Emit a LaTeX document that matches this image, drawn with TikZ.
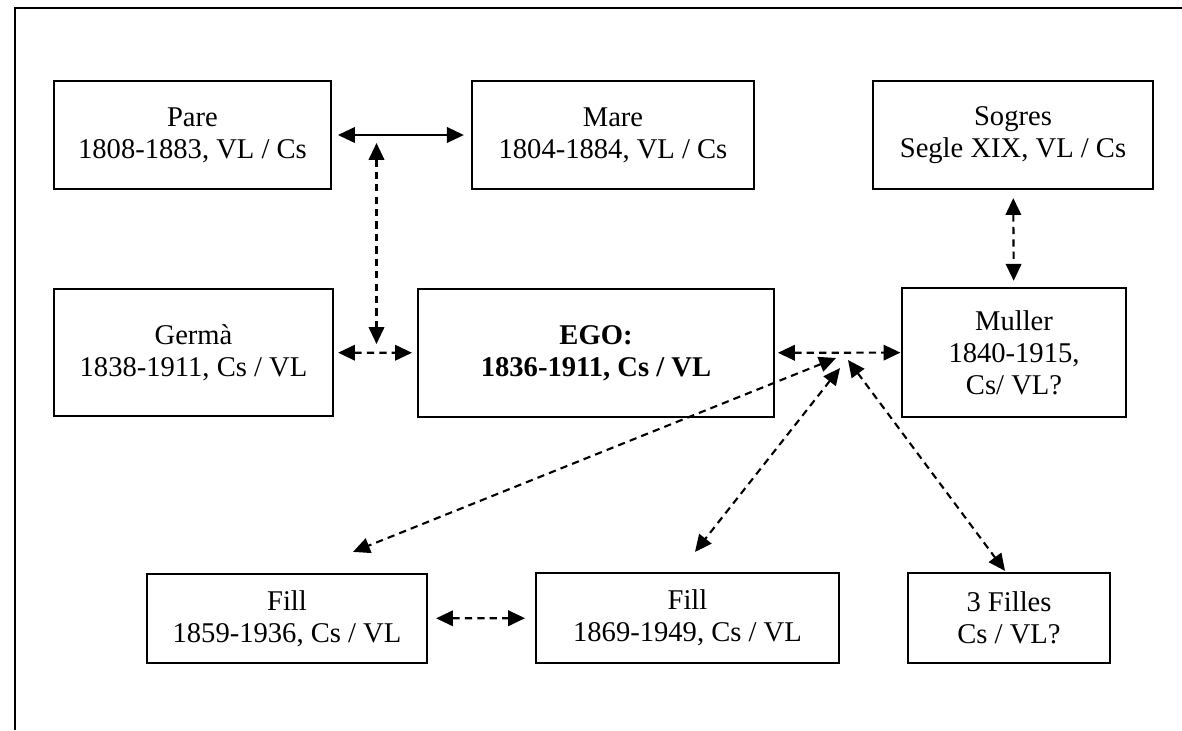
\documentclass[tikz,border=0pt]{standalone}
\usepackage{fontspec}
\setmainfont{Liberation Serif}
\usetikzlibrary{arrows.meta}
\tikzset{box/.style = {draw, line width = 0.95pt, align = center, inner sep = 0,
                       font = \fontsize{12.2}{13.7}\selectfont}}
\tikzset{link/.style = {line width = 0.9pt,
                        {Triangle[length = 7.2pt, width = 6.6pt]}-{Triangle[length = 7.2pt, width = 6.6pt]}}}
\tikzset{dlink/.style = {link, dash pattern = on 3.1pt off 2.2pt}}

\begin{document}
\begin{tikzpicture}[x = 0.015cm, y = -0.015cm]
    \useasboundingbox (0, 0) rectangle (1182, 730);
    \draw [line width = 0.95pt] (1182, 8) -- (15, 8) -- (15, 730);

    \node [box, minimum width = 4.155cm, minimum height = 1.62cm] (pare) at (192.5, 135) {Pare\\1808-1883, VL / Cs};
    \node [box, minimum width = 4.23cm, minimum height = 1.62cm] (mare) at (613, 135) {Mare\\1804-1884, VL / Cs};
    \node [box, minimum width = 4.2cm, minimum height = 1.62cm] (sogres) at (1013, 135) {Sogres\\Segle XIX, VL / Cs};
    \node [box, minimum width = 4.185cm, minimum height = 1.905cm] (germa) at (193.5, 352.5) {Germà\\1838-1911, Cs / VL};
    \node [box, minimum width = 5.34cm, minimum height = 1.92cm] (ego) at (596, 353) {\textbf{EGO:}\\\textbf{1836-1911, Cs / VL}};
    \node [box, minimum width = 3.36cm, minimum height = 1.935cm] (muller) at (1014, 352.5) {Muller\\1840-1915,\\Cs/ VL?};
    \node [box, minimum width = 4.2cm, minimum height = 1.335cm] (fill1) at (287, 618.5) {Fill\\1859-1936, Cs / VL};
    \node [box, minimum width = 4.545cm, minimum height = 1.35cm] (fill2) at (687.5, 618) {Fill\\1869-1949, Cs / VL};
    \node [box, minimum width = 3.03cm, minimum height = 1.35cm] (filles) at (1009, 618) {3 Filles\\Cs / VL?};

    \coordinate (sib top) at (376.5, 143);
    \coordinate (sib bot) at (376.5, 344);
    \coordinate (hub a) at (836, 358);
    \coordinate (hub b) at (840, 368);
    \coordinate (hub c) at (848, 360);

    \draw [link, shorten <= 2.5pt, shorten >= 3pt] (pare) -- (mare);
    \draw [dlink] (sib top) -- (sib bot);
    \draw [dlink, shorten <= 1.7pt, shorten >= 2.1pt] (germa) -- (ego);
    \draw [dlink, shorten <= 1.2pt, shorten >= 0.2pt] (ego) -- (muller);
    \draw [dlink, shorten <= 3.4pt, shorten >= 2.6pt] (sogres) -- (muller);
    \draw [dlink, shorten <= 3.4pt, shorten >= 4.2pt] (fill1) -- (fill2);
    \draw [dlink] (hub a) -- ([shift = {(66, -21)}] fill1.north);
    \draw [dlink] (hub b) -- ([shift = {(7.5, -20)}] fill2.north);
    \draw [dlink] (hub c) -- ([shift = {(-4, -1)}] filles.north);
\end{tikzpicture}
\end{document}
